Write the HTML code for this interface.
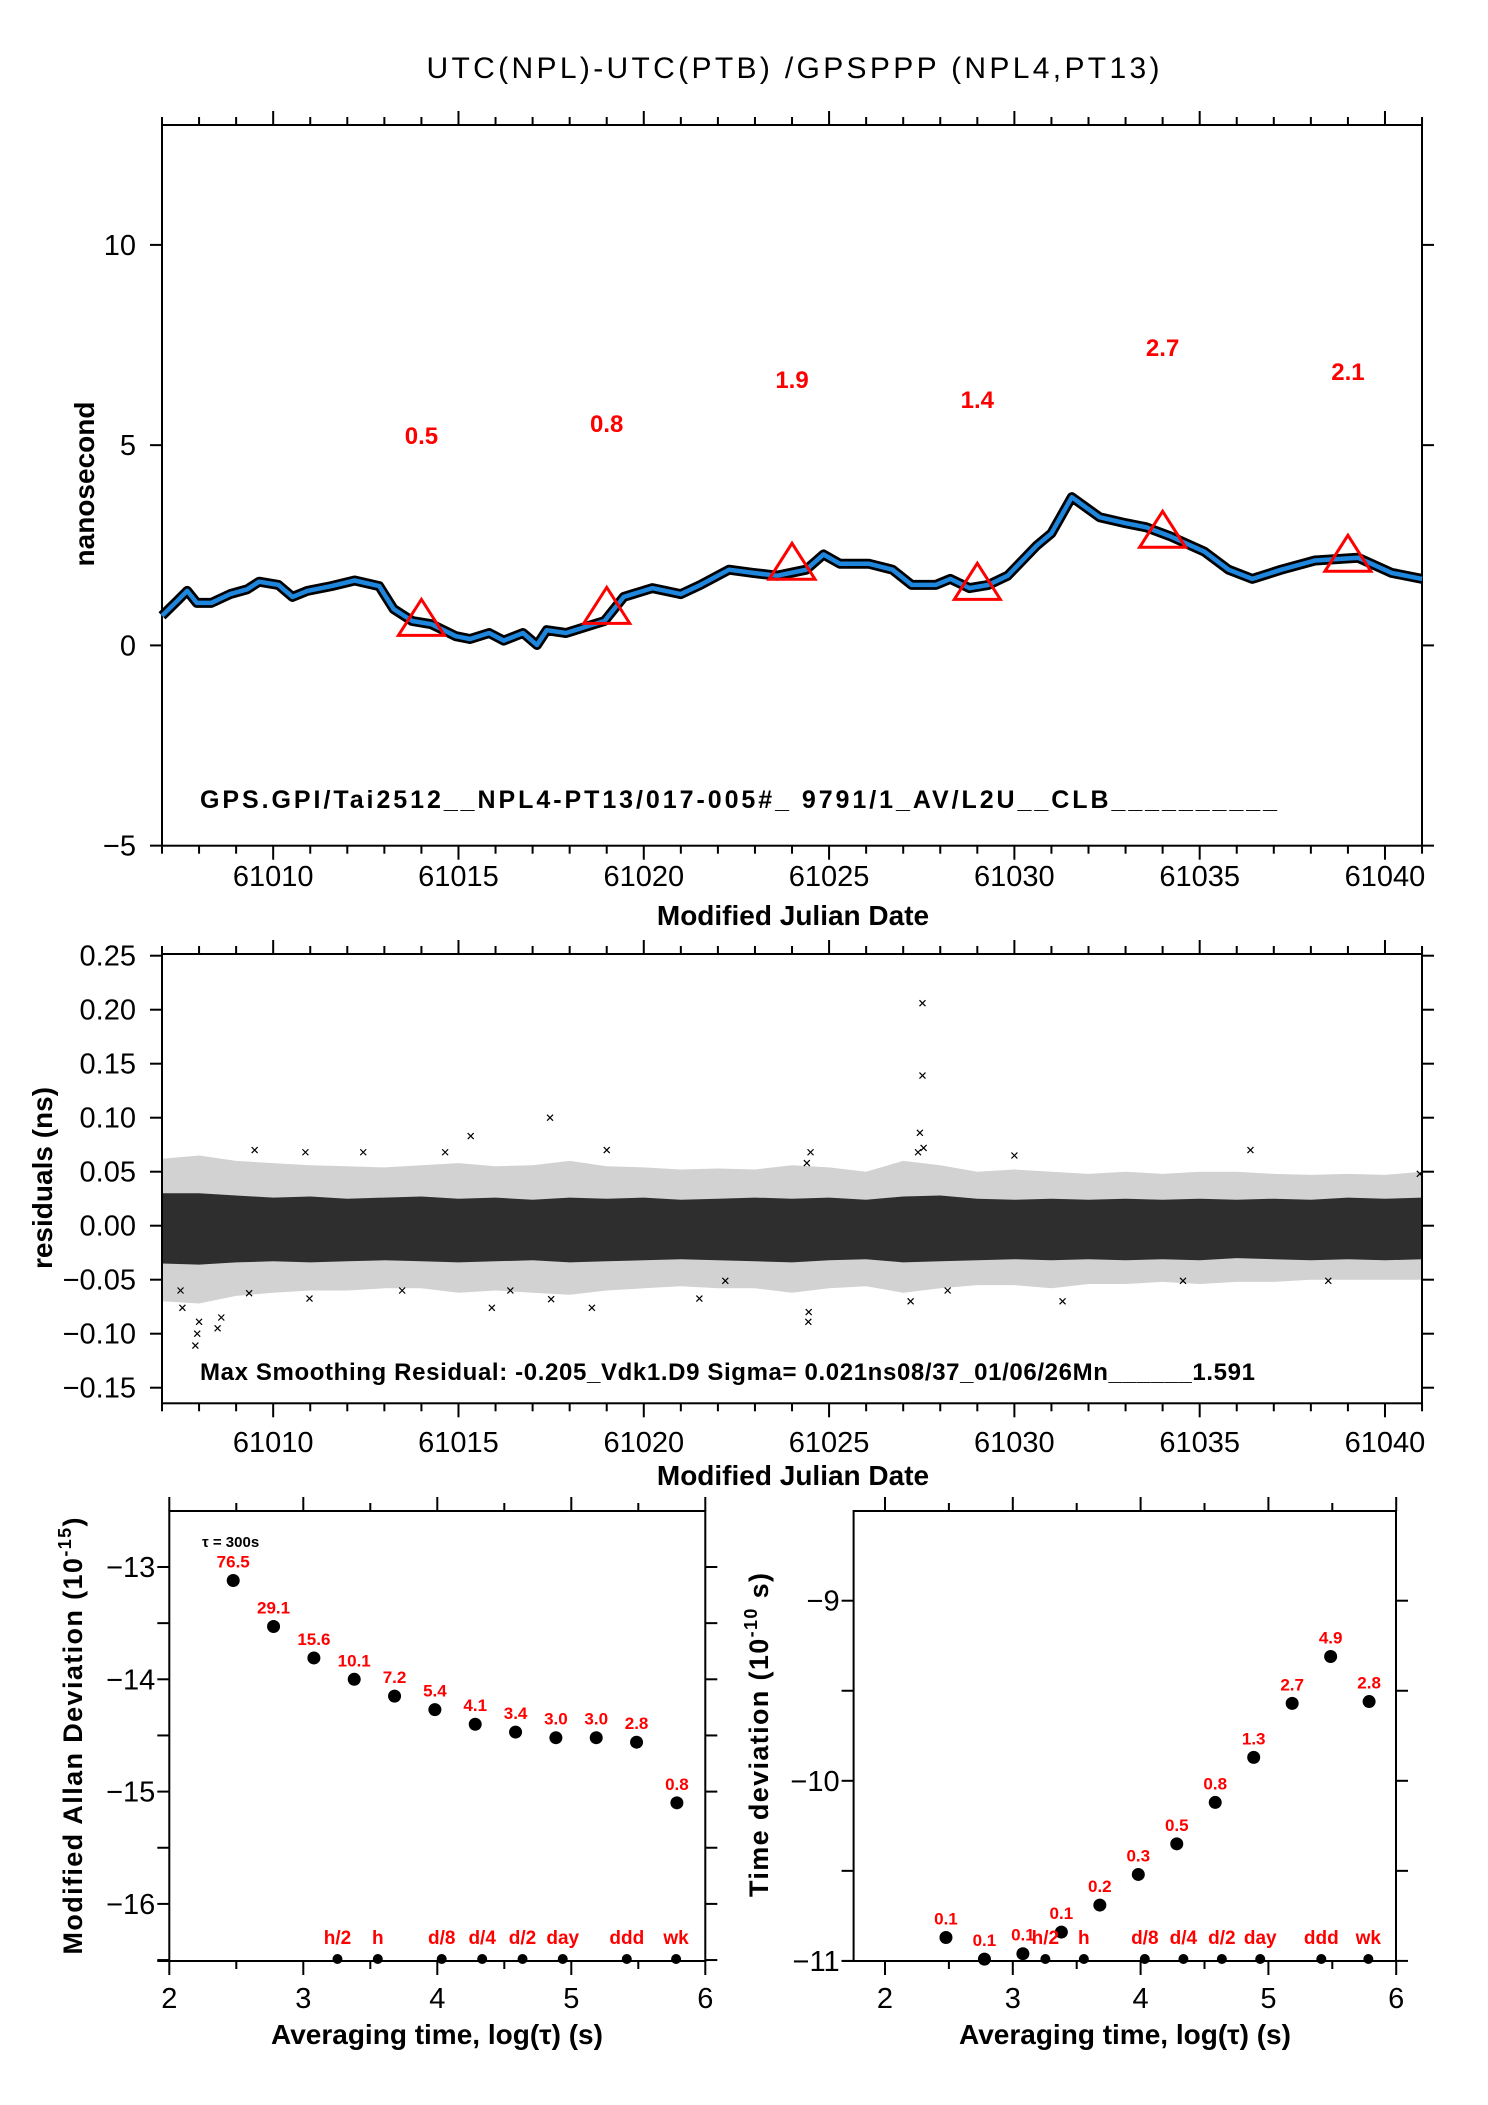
<!DOCTYPE html>
<html><head><meta charset="utf-8"><style>
html,body{margin:0;padding:0;background:#fff}
svg{display:block}
text{font-family:"Liberation Sans",sans-serif}
</style></head><body>
<svg id="chart" xmlns="http://www.w3.org/2000/svg" width="1488" height="2105" viewBox="0 0 1488 2105">
<rect width="1488" height="2105" fill="#fff"/>
<text x="793" y="78" font-size="30" text-anchor="middle" textLength="733">UTC(NPL)-UTC(PTB)  /GPSPPP  (NPL4,PT13)</text>
<g id="top"></g>
<g id="mid"></g>
<g id="bl"></g>
<g id="br"></g>
</svg>
<script>
// ---- top panel data ----
const offsetMjd = [61007.0,61007.4,61007.68,61007.94,61008.33,61008.84,61009.3,61009.62,61010.14,61010.52,61010.92,61011.57,61012.2,61012.86,61013.25,61013.75,61014.27,61014.93,61015.31,61015.83,61016.22,61016.74,61017.12,61017.38,61017.9,61018.42,61018.94,61019.46,61020.23,61021.0,61021.53,61022.3,61022.95,61023.6,61024.38,61024.85,61025.29,61026.07,61026.71,61027.23,61027.88,61028.27,61028.79,61029.3,61029.82,61030.6,61031.0,61031.55,61032.3,61033.0,61033.56,61034.22,61035.13,61035.78,61036.42,61037.2,61038.11,61039.27,61040.18,61041.0];
const offsetNs = [0.74,1.1,1.36,1.06,1.06,1.28,1.4,1.59,1.51,1.21,1.36,1.48,1.62,1.48,0.91,0.61,0.53,0.23,0.16,0.31,0.12,0.31,0.01,0.38,0.31,0.46,0.61,1.21,1.43,1.28,1.51,1.89,1.81,1.74,1.89,2.27,2.04,2.04,1.89,1.51,1.51,1.66,1.43,1.51,1.74,2.49,2.8,3.7,3.2,3.05,2.95,2.72,2.34,1.89,1.66,1.89,2.12,2.19,1.81,1.66];
const triMjd = [61014,61019,61024,61029,61034,61039];
const triVal = [0.5,0.8,1.9,1.4,2.7,2.1];
const triLabels = ["0.5","0.8","1.9","1.4","2.7","2.1"];
const topYTicks = [-5,0,5,10];
const mjdTicks = [61010,61015,61020,61025,61030,61035,61040];
// ---- residual panel data ----
const bandMjd = [61007,61008,61009,61010,61011,61012,61013,61014,61015,61016,61017,61018,61019,61020,61021,61022,61023,61024,61025,61026,61027,61028,61029,61030,61031,61032,61033,61034,61035,61036,61037,61038,61039,61040,61041];
const coreHi = [0.03,0.03,0.028,0.026,0.027,0.025,0.026,0.027,0.025,0.026,0.024,0.026,0.025,0.026,0.024,0.025,0.026,0.025,0.026,0.024,0.027,0.028,0.025,0.024,0.025,0.024,0.025,0.024,0.025,0.024,0.025,0.024,0.026,0.025,0.026];
const coreLo = [-0.035,-0.036,-0.034,-0.033,-0.034,-0.033,-0.032,-0.033,-0.034,-0.033,-0.032,-0.034,-0.033,-0.032,-0.031,-0.032,-0.033,-0.034,-0.032,-0.031,-0.034,-0.033,-0.032,-0.031,-0.032,-0.031,-0.032,-0.031,-0.032,-0.03,-0.031,-0.032,-0.031,-0.032,-0.031];
const outerHi = [0.062,0.065,0.06,0.058,0.056,0.055,0.054,0.056,0.058,0.055,0.056,0.06,0.055,0.054,0.052,0.053,0.052,0.056,0.054,0.05,0.06,0.056,0.05,0.052,0.05,0.048,0.05,0.048,0.05,0.05,0.048,0.047,0.048,0.047,0.05];
const outerLo = [-0.07,-0.072,-0.065,-0.062,-0.06,-0.06,-0.058,-0.058,-0.062,-0.06,-0.062,-0.064,-0.06,-0.058,-0.056,-0.058,-0.058,-0.062,-0.058,-0.056,-0.062,-0.058,-0.055,-0.055,-0.058,-0.054,-0.054,-0.052,-0.054,-0.052,-0.052,-0.05,-0.05,-0.05,-0.05];
const outMjd = [61027.52,61027.52,61027.45,61027.55,61027.4,61017.47,61007.9,61007.95,61008.0,61008.5,61014.64,61015.33,61013.48,61021.5,61024.44,61024.5,61019.0,61017.5,61018.6,61027.2,61028.2,61036.37,61038.47,61040.94,61007.5,61007.55,61009.5,61010.87,61012.43,61009.35,61010.98,61015.9,61016.4,61024.4,61022.2,61031.3,61034.55,61030.0,61008.6,61024.45];
const outVal = [0.206,0.139,0.086,0.072,0.068,0.1,-0.111,-0.1,-0.089,-0.095,0.068,0.083,-0.06,-0.0675,-0.089,0.068,0.07,-0.068,-0.076,-0.07,-0.06,0.07,-0.051,0.048,-0.06,-0.076,0.07,0.068,0.068,-0.0625,-0.0675,-0.076,-0.06,0.058,-0.051,-0.07,-0.051,0.065,-0.085,-0.08];
const midYTicks = [-0.15,-0.10,-0.05,0.00,0.05,0.10,0.15,0.20,0.25];
const midYLabels = ["\u22120.15","\u22120.10","\u22120.05","0.00","0.05","0.10","0.15","0.20","0.25"];
// ---- Allan data ----
const logTau = [2.477,2.778,3.079,3.380,3.681,3.982,4.283,4.584,4.885,5.186,5.487,5.788];
const madev = [-13.12,-13.53,-13.81,-14.0,-14.15,-14.27,-14.40,-14.47,-14.52,-14.52,-14.56,-15.10];
const madevLabels = ["76.5","29.1","15.6","10.1","7.2","5.4","4.1","3.4","3.0","3.0","2.8","0.8"];
const tdev = [-10.87,-10.99,-10.96,-10.84,-10.69,-10.52,-10.35,-10.12,-9.87,-9.57,-9.31,-9.56];
const tdevLabels = ["0.1","0.1","0.1","0.1","0.2","0.3","0.5","0.8","1.3","2.7","4.9","2.8"];
const markTau = [3.255,3.556,4.033,4.335,4.636,4.936,5.414,5.782];
const markLabels = ["h/2","h","d/8","d/4","d/2","day","ddd","wk"];
const blYTicks = [-13,-14,-15,-16];
const brYTicks = [-9,-10,-11];
const logTicks = [2,3,4,5,6];

const NS="http://www.w3.org/2000/svg";
function mk(parent,tag,attrs,txt){const e=document.createElementNS(NS,tag);for(const k in attrs)e.setAttribute(k,attrs[k]);if(txt!==undefined)e.textContent=txt;parent.appendChild(e);return e;}
const gTop=document.getElementById('top'),gMid=document.getElementById('mid'),gBL=document.getElementById('bl'),gBR=document.getElementById('br');

const X=m=>162+(m-61007)*37.06;
const Yt=v=>645.4-40.05*v;
const Ym=v=>955.7+(0.25-v)*1080;
const Xl=t=>169.3+(t-2)*134;
const Yl=v=>1567+(-13-v)*112.3;
const Xr=t=>885+(t-2)*127.8;
const Yr=v=>1600.7+(-9-v)*180.1;

function frame(g,x0,y0,x1,y1){
  const r=mk(g,'rect',{x:x0,y:y0,width:x1-x0,height:y1-y0,fill:'none',stroke:'#000','stroke-width':2});
  
  
}
function line(g,x1,y1,x2,y2,name){const l=mk(g,'line',{x1:x1,y1:y1,x2:x2,y2:y2,stroke:'#000','stroke-width':2});
  
  }
function txt(g,x,y,s,size,anchor,name,extra){const a=Object.assign({x:x,y:y,'font-size':size,'text-anchor':anchor},extra||{});const t=mk(g,'text',a,s);
  
  return t;}

function mjdAxis(g,yTop,yBot,labelY,titleY){
  for(let d=61007;d<=61041;d++){const major=d%5===0;const L=major?14:8;const x=X(d);
    line(g,x,yTop,x,yTop-L,'x-tick-top');line(g,x,yBot,x,yBot+L,'x-tick-bottom');}
  mjdTicks.forEach(m=>txt(g,X(m),labelY,String(m),29,'middle','x-tick-label'));
  txt(g,793,titleY,'Modified Julian Date',28,'middle','x-axis-title',{'font-weight':'bold'});
}
// ===== TOP PANEL =====
frame(gTop,162,125,1422,845.7);
mjdAxis(gTop,125,845.7,886,925);
topYTicks.forEach(v=>{const y=Yt(v);line(gTop,150,y,162,y,'y-tick-left');line(gTop,1422,y,1434,y,'y-tick-right');
  txt(gTop,136,y+10,(v<0?'\u2212':'')+Math.abs(v),29,'end','y-tick-label');});
txt(gTop,0,0,'nanosecond',28,'middle','y-axis-title',{'font-weight':'bold',transform:'translate(94,484) rotate(-90)'});
let d='';offsetMjd.forEach((m,i)=>{d+=(i?'L':'M')+X(m).toFixed(1)+' '+Yt(offsetNs[i]).toFixed(1);});
const pb=mk(gTop,'path',{d:d,fill:'none',stroke:'#000','stroke-width':10,'stroke-linejoin':'round'});


const pl=mk(gTop,'path',{d:d,fill:'none',stroke:'#1f86dd','stroke-width':4.5,'stroke-linejoin':'round'});


triMjd.forEach((m,i)=>{const x=X(m),y=Yt(triVal[i]+0.1);
  const t=mk(gTop,'polygon',{points:`${x-23},${y+14} ${x+23},${y+14} ${x},${y-22}`,fill:'none',stroke:'#f00','stroke-width':3});
  
  
  txt(gTop,x,Yt(triVal[i]+4.75)+9,triLabels[i],24,'middle','triangle-label',{fill:'#f00','font-weight':'bold'});});
txt(gTop,200,808,'GPS.GPI/Tai2512__NPL4-PT13/017-005#_  9791/1_AV/L2U__CLB__________',25,'start','data-source-label',{'font-weight':'bold',textLength:1077,'xml:space':'preserve'});

// ===== MIDDLE PANEL =====
function band(hi,lo,fill,name){let p='';bandMjd.forEach((m,i)=>{p+=(i?'L':'M')+X(m).toFixed(1)+' '+Ym(hi[i]).toFixed(1);});
  for(let i=bandMjd.length-1;i>=0;i--)p+='L'+X(bandMjd[i]).toFixed(1)+' '+Ym(lo[i]).toFixed(1);p+='Z';
  const b=mk(gMid,'path',{d:p,fill:fill});
  
  }
band(outerHi,outerLo,'#d2d2d2','residual-sparse-band');
band(coreHi,coreLo,'#2e2e2e','residual-dense-band');
outMjd.forEach((m,i)=>{const x=X(m),y=Ym(outVal[i]);
  const c=mk(gMid,'path',{d:`M${x-3} ${y-3}L${x+3} ${y+3}M${x-3} ${y+3}L${x+3} ${y-3}`,stroke:'#000','stroke-width':1.2});
  
  });
frame(gMid,162,954,1422,1403.3);
mjdAxis(gMid,954,1403.3,1452,1485);
midYTicks.forEach((v,i)=>{const y=Ym(v);line(gMid,150,y,162,y,'y-tick-left');line(gMid,1422,y,1434,y,'y-tick-right');
  txt(gMid,136,y+10,midYLabels[i],29,'end','y-tick-label');});
txt(gMid,0,0,'residuals (ns)',28,'middle','y-axis-title',{'font-weight':'bold',transform:'translate(52,1178) rotate(-90)'});
txt(gMid,200,1380,'Max Smoothing Residual: -0.205_Vdk1.D9  Sigma= 0.021ns08/37_01/06/26Mn______1.591',24,'start','residual-summary-label',{'font-weight':'bold',textLength:1055,'xml:space':'preserve'});

// ===== STABILITY PANELS =====
function stabPanel(g,Xs,Ys,x0,x1,y0,y1,yTicks,vals,labels){
  frame(g,x0,y0,x1,y1);
  for(let t=2;t<=6.001;t+=0.5){const x=Xs(t);if(x<x0-1||x>x1+1)continue;const maj=Math.abs(t-Math.round(t))<0.01;const L=maj?14:8;
    line(g,x,y0,x,y0-L,'x-tick-top');line(g,x,y1,x,y1+L,'x-tick-bottom');}
  logTicks.forEach(t=>txt(g,Xs(t),2008,String(t),29,'middle','x-tick-label'));
  for(let v=yTicks[0];v>=yTicks[yTicks.length-1]-0.51;v-=0.5){const y=Ys(v);if(y<y0-1||y>y1+1)continue;
    line(g,x0-12,y,x0,y,'y-tick-left');line(g,x1,y,x1+12,y,'y-tick-right');}
  line(g,x0-12,y1,x0,y1,'y-tick-left');
  yTicks.forEach(v=>txt(g,x0-14,Ys(v)+10,'\u2212'+Math.abs(v),29,'end','y-tick-label'));
  logTau.forEach((t,i)=>{const x=Xs(t),y=Ys(vals[i]);
    const c=mk(g,'circle',{cx:x,cy:y,r:6.5,fill:'#000'});
    
    
    txt(g,x,y-13,labels[i],17,'middle','point-value-label',{fill:'#f00','font-weight':'bold'});});
  markTau.forEach((t,i)=>{const x=Xs(t);
    const c=mk(g,'circle',{cx:x,cy:y1-2,r:5,fill:'#000'});
    
    
    txt(g,x,y1-17,markLabels[i],19,'middle','interval-label',{fill:'#f00','font-weight':'bold'});});
}
stabPanel(gBL,Xl,Yl,169.3,705.3,1511,1961,blYTicks,madev,madevLabels);
stabPanel(gBR,Xr,Yr,853.6,1396,1511,1961,brYTicks,tdev,tdevLabels);
txt(gBL,202,1547,'\u03c4 = 300s',15,'start','tau-annotation',{'font-weight':'bold'});
txt(gBL,437,2044,'Averaging time, log(\u03c4) (s)',28,'middle','x-axis-title',{'font-weight':'bold'});
txt(gBR,1125,2044,'Averaging time, log(\u03c4) (s)',28,'middle','x-axis-title',{'font-weight':'bold'});
const t1=txt(gBL,0,0,'',27,'middle','y-axis-title',{'font-weight':'bold',transform:'translate(82,1736) rotate(-90)',textLength:437});
t1.innerHTML='Modified Allan Deviation (10<tspan font-size="18" dy="-11">-15</tspan><tspan dy="11">)</tspan>';
const t2=txt(gBR,0,0,'',27,'middle','y-axis-title',{'font-weight':'bold',transform:'translate(768,1735) rotate(-90)',textLength:324});
t2.innerHTML='Time deviation (10<tspan font-size="18" dy="-11">-10</tspan><tspan dy="11"> s)</tspan>';
</script>
</body></html>
